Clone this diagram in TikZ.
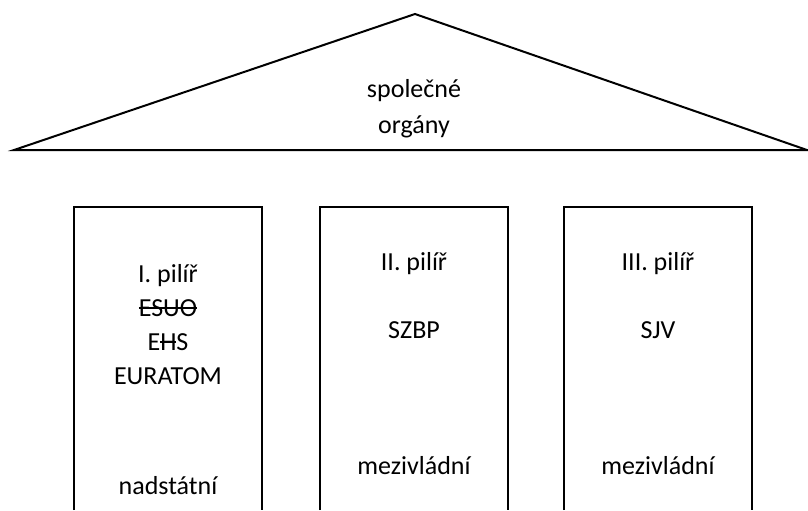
\documentclass[tikz,border=0pt]{standalone}
\usepackage{fontspec}
\setmainfont{Carlito}
\usetikzlibrary{positioning}

% crossed-out text
\newcommand{\strk}[1]{\setbox0\hbox{#1}\rlap{\rule[0.3em]{\wd0}{0.065em}}\box0}

\tikzset{
    pillar/.style={draw, line width=1pt},
    txt/.style={font=\fontsize{13}{17}\selectfont, align=center, inner sep=0pt}
}

\begin{document}
\begin{tikzpicture}[x=0.5pt, y=-0.5pt]
                \useasboundingbox (0,0) rectangle (808,510);

                % roof
                \draw[line width=1pt] (14,150) -- (415,14) -- (807,150) -- cycle;
                \node[txt] (roof) at (414,109) {společné\\[1pt]orgány};

                % pillars
                \draw[pillar] (74,510) -- (74,207) -- (262,207) -- (262,510);
                \draw[pillar] (320,510) -- (320,207) -- (508,207) -- (508,510);
                \draw[pillar] (564,510) -- (564,207) -- (752,207) -- (752,510);

                \node[txt] (p1) at (168,325) {I. pilíř\\\strk{ESUO}\\E\strk{H}S\\EURATOM};
                \node[txt] (p1t) at (168,486) {nadstátní};

                \node[txt] (p2) at (414,264) {II. pilíř};
                \node[txt] (p2n) at (414,330) {SZBP};
                \node[txt] (p2t) at (414,466) {mezivládní};

                \node[txt] (p3) at (658,264) {III. pilíř};
                \node[txt] (p3n) at (658,330) {SJV};
                \node[txt] (p3t) at (658,466) {mezivládní};
            \end{tikzpicture}
\end{document}
